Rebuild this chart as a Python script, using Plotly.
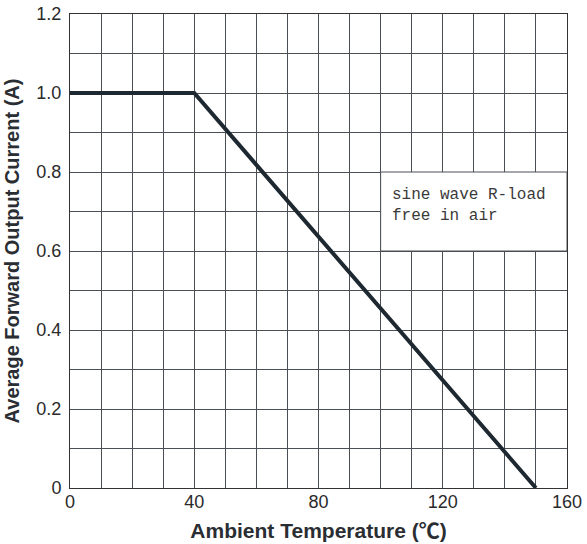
import plotly.graph_objects as go

temp = [0, 40, 150]
current = [1.0, 1.0, 0.0]

x_ticks = [0, 40, 80, 120, 160]
y_ticks = [0, 0.2, 0.4, 0.6, 0.8, 1.0, 1.2]
y_tick_text = ["0", "0.2", "0.4", "0.6", "0.8", "1.0", "1.2"]

note_lines = ["sine wave R-load", "free in air"]
note_box_x = [100, 160]
note_box_y = [0.6, 0.8]

grid_color = "#4a4f55"
tick_font = dict(family="Liberation Sans, Arial, sans-serif", size=18, color="#2a2a2a")
xtitle_font = dict(family="Liberation Sans, Noto Sans CJK SC, sans-serif", size=21, color="#2a2e33")
ytitle_font = dict(family="Liberation Sans, Arial, sans-serif", size=20, color="#2a2e33")

fig = go.Figure()
fig.add_trace(go.Scatter(
    x=temp, y=current, mode="lines",
    line=dict(color="#1e2830", width=4),
    showlegend=False, hoverinfo="skip",
))

fig.add_shape(
    type="rect", xref="x", yref="y",
    x0=note_box_x[0], x1=note_box_x[1], y0=note_box_y[0], y1=note_box_y[1],
    fillcolor="white", line=dict(color=grid_color, width=1), layer="between",
)

fig.add_annotation(
    x=note_box_x[0], y=note_box_y[1], xref="x", yref="y",
    xanchor="left", yanchor="top", xshift=9, yshift=-12,
    text="<br>".join(note_lines), showarrow=False, align="left",
    font=dict(family="Liberation Mono, Courier New, monospace", size=16, color="#3a3a3a"),
)

fig.update_layout(
    width=587, height=544,
    margin=dict(l=70, r=20, t=14, b=56),
    paper_bgcolor="white", plot_bgcolor="white",
    xaxis=dict(
        range=[0, 160], tickvals=x_ticks, ticks="",
        showgrid=True, gridcolor=grid_color, gridwidth=1,
        minor=dict(dtick=10, tick0=0, showgrid=True, gridcolor=grid_color, gridwidth=1),
        showline=True, linecolor="#333333", linewidth=1, mirror=True,
        zeroline=False, tickfont=tick_font, ticklabelstandoff=-3, automargin=False,
        ticklabeloverflow="allow",
        title=dict(text="<b>Ambient Temperature (℃)</b>", font=xtitle_font, standoff=12),
    ),
    yaxis=dict(
        range=[0, 1.2], tickvals=y_ticks, ticktext=y_tick_text, ticks="",
        showgrid=True, gridcolor=grid_color, gridwidth=1,
        minor=dict(dtick=0.1, tick0=0, showgrid=True, gridcolor=grid_color, gridwidth=1),
        showline=True, linecolor="#333333", linewidth=1, mirror=True,
        zeroline=False, tickfont=tick_font, ticklabelstandoff=4, automargin=False,
        ticklabeloverflow="allow",
        title=dict(text="<b>Average Forward Output Current (A)</b>", font=ytitle_font, standoff=11),
    ),
)

fig.write_html(
    "out.html",
    config={"displayModeBar": False},
    post_script="document.body.style.margin='0';document.body.style.overflow='hidden';",
)
